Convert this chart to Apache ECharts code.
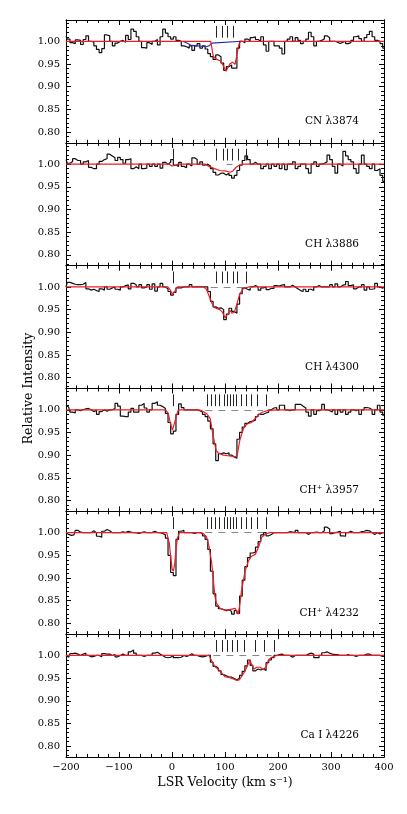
<!DOCTYPE html>
<html>
<head>
<meta charset="utf-8">
<title>Absorption profiles</title>
<script src="https://cdn.jsdelivr.net/npm/echarts@6/dist/echarts.min.js"></script>
<style>
  html, body { margin: 0; padding: 0; background: #fff; }
  #main { width: 407px; height: 814px; }
</style>
</head>
<body>
<div id="main"></div>
<script>
// velocity grid of the spectra (km/s), one bin per 5 km/s
var vel = [];
for (var i = 0; i < 121; i++) vel.push(-200 + 5 * i);

var xTicks = [-200, -100, 0, 100, 200, 300, 400];
var yLabels = [0.80, 0.85, 0.90, 0.95, 1.00];
var yMinor = [0.78, 0.79, 0.81, 0.82, 0.83, 0.84, 0.86, 0.87, 0.88, 0.89, 0.91, 0.92, 0.93, 0.94,
  0.96, 0.97, 0.98, 0.99, 1.01, 1.02, 1.03, 1.04];

// observed spectra (relative intensity)
var cn3874 = [1.012,1.005,0.997,0.995,1.003,1.002,0.993,1.004,1.012,1.000,
  0.998,0.990,0.982,0.975,0.984,1.014,1.012,1.000,0.990,0.996,
  1.000,1.002,0.998,1.013,1.004,1.027,1.022,1.010,1.000,0.986,
  0.985,0.997,0.993,1.000,1.004,0.992,1.010,1.027,1.018,1.010,
  1.005,1.010,1.002,1.000,0.990,0.988,0.985,0.990,0.980,0.990,
  0.995,0.985,0.990,0.983,0.973,0.966,0.960,0.970,0.966,0.952,
  0.936,0.944,0.948,0.941,0.941,0.985,1.000,0.997,1.005,1.001,
  1.008,1.010,1.004,1.000,1.010,0.992,0.978,1.000,1.000,0.990,
  0.990,0.985,0.972,1.000,1.005,1.010,1.000,1.008,1.002,0.995,
  1.000,1.005,1.020,1.010,0.990,1.000,1.002,1.005,1.012,1.008,
  1.000,1.000,0.998,0.995,0.998,1.000,0.995,0.997,1.002,1.010,
  1.012,1.006,1.000,1.008,1.015,1.022,1.010,1.002,1.000,0.995,
  0.985];
var ch3886 = [1.010,1.002,1.006,1.012,1.008,1.008,1.000,1.005,1.008,0.993,
  0.990,0.990,1.000,1.006,1.010,1.012,1.022,1.018,1.014,1.008,
  1.015,1.010,1.002,1.010,1.012,0.990,0.994,0.990,1.000,0.990,
  0.991,1.000,0.995,1.000,0.995,1.000,0.991,1.004,1.000,1.004,
  1.010,0.998,0.995,1.004,0.995,0.992,1.000,0.996,1.014,1.010,
  1.000,1.005,0.998,1.000,0.996,0.990,0.982,0.976,0.980,0.980,
  0.976,0.980,0.975,0.969,0.975,0.986,0.998,1.008,1.018,1.010,
  1.000,1.004,1.000,1.000,0.990,0.995,1.000,0.990,1.000,0.995,
  1.000,0.990,1.000,0.988,1.000,1.000,1.005,0.990,0.995,1.000,
  1.000,0.990,0.980,1.000,1.005,0.995,1.000,1.002,1.005,1.020,
  1.010,0.995,0.980,1.000,0.996,1.028,1.018,1.010,1.005,0.990,
  0.980,1.000,1.020,1.000,0.995,0.990,1.000,0.986,0.990,0.975,
  0.962];
var ch4300 = [1.000,1.010,1.008,1.006,1.005,1.005,1.006,1.010,0.996,0.993,
  0.995,0.992,0.990,0.996,0.993,1.000,0.995,0.998,1.000,0.995,
  0.993,1.000,1.003,1.005,0.996,1.008,1.005,1.000,1.005,0.998,
  1.000,1.005,0.995,1.007,0.991,1.000,1.008,1.000,0.996,0.990,
  0.982,0.988,0.998,0.998,1.000,1.000,1.000,1.005,1.000,1.000,
  1.000,1.000,1.000,1.000,0.990,0.968,0.956,0.953,0.954,0.950,
  0.928,0.940,0.953,0.946,0.942,0.962,0.985,0.998,0.995,0.993,
  1.000,1.003,1.000,0.993,0.998,1.000,0.994,0.997,0.997,1.003,
  1.002,1.004,1.005,1.000,1.000,1.004,1.000,0.996,0.992,0.990,
  0.995,0.990,0.995,0.992,1.000,1.003,1.000,1.000,1.000,1.000,
  1.005,1.000,1.007,1.000,1.004,1.005,1.012,1.003,1.005,0.996,
  1.000,1.000,1.005,0.993,1.000,0.995,0.996,1.008,1.000,0.997,
  1.000];
var chp3957 = [1.010,1.006,0.995,0.993,1.000,0.998,1.000,1.002,1.003,1.000,
  0.996,0.999,0.990,0.996,1.000,0.997,1.000,1.000,1.003,1.014,
  1.008,0.986,0.985,0.985,0.995,1.003,0.995,0.995,1.010,1.014,
  1.004,0.995,1.000,1.014,1.018,1.010,1.007,1.003,0.992,0.972,
  0.947,0.953,0.990,1.013,1.005,1.000,1.000,1.000,1.000,1.000,
  0.998,0.995,0.990,0.985,0.975,0.958,0.925,0.888,0.903,0.905,
  0.903,0.905,0.900,0.896,0.893,0.935,0.950,0.962,0.970,0.974,
  0.975,0.977,0.985,0.990,0.990,0.993,0.995,1.000,1.004,1.005,
  1.000,1.010,1.010,1.000,0.998,1.000,1.000,1.012,1.012,1.008,
  1.004,0.995,0.986,1.000,0.990,0.998,1.000,1.012,1.000,0.998,
  0.995,1.000,0.990,1.000,0.995,1.000,0.990,0.995,1.000,0.998,
  1.000,0.990,1.000,1.005,1.004,1.000,0.990,1.000,1.010,0.995,
  0.988];
var chp4232 = [1.000,0.996,0.994,0.995,1.005,1.001,1.000,1.000,1.000,1.000,
  1.004,1.000,0.992,0.990,1.003,1.007,1.004,1.000,1.000,1.000,
  1.000,1.002,1.000,1.003,1.001,1.000,1.000,0.998,1.000,1.002,
  1.000,1.000,1.000,1.003,1.000,1.000,0.998,0.995,0.988,0.950,
  0.912,0.905,0.985,1.003,1.005,1.000,1.000,1.000,0.998,1.000,
  1.000,0.998,0.993,0.985,0.963,0.915,0.865,0.838,0.832,0.830,
  0.828,0.830,0.826,0.820,0.828,0.822,0.860,0.895,0.925,0.945,
  0.955,0.957,0.968,0.980,0.995,1.000,0.993,0.996,1.000,1.000,
  1.000,1.000,1.000,1.000,1.002,1.001,1.000,1.005,1.000,1.000,
  1.000,0.996,1.000,1.000,1.001,1.000,1.000,1.004,1.012,1.008,
  0.998,1.000,1.001,1.003,0.993,0.992,1.000,1.003,1.000,1.000,
  1.000,1.002,1.003,1.005,1.004,1.000,0.996,1.000,0.997,1.000,
  1.000];
var cai4226 = [1.000,0.996,1.004,1.005,1.003,1.000,1.003,1.005,1.000,0.997,
  0.998,1.000,1.000,0.997,1.004,1.003,1.003,1.000,1.002,0.997,
  1.000,1.003,1.000,1.000,1.008,1.012,1.005,1.000,1.000,0.998,
  1.000,1.000,1.000,1.005,1.007,1.003,1.000,0.996,0.995,0.996,
  1.000,0.995,0.995,0.996,1.000,0.998,1.000,1.004,1.000,1.000,
  0.998,0.997,0.998,1.000,1.000,0.985,0.976,0.972,0.966,0.958,
  0.955,0.953,0.952,0.949,0.946,0.950,0.956,0.965,0.977,0.990,
  0.978,0.966,0.970,0.968,0.970,0.967,0.984,0.990,0.995,1.000,
  1.002,1.003,1.000,1.000,1.000,0.996,1.000,1.000,1.000,1.000,
  1.000,1.003,1.005,1.003,0.995,0.995,1.000,1.006,1.008,1.005,
  1.003,1.002,1.002,1.000,1.000,1.000,1.002,1.000,1.000,0.998,
  1.000,1.000,1.000,1.003,1.003,1.000,1.000,1.000,1.000,0.998,
  0.998];

// profile fits [velocity, intensity]
var fitCN3874 = [[-200,1],[73,1],[78,0.967],[84,0.96],[91,0.957],[96,0.948],[102,0.934],[109,0.95],
  [114,0.954],[119,0.949],[123,0.974],[127,0.996],[131,1],[400,1]];
var blueCN3874 = [[20,1],[28,0.996],[37,0.991],[47,0.99],[56,0.989],[65,0.988],[70,0.99],[75,0.996],[78,1],[131,1]];
var fitCH3886 = [[-200,1],[-5,1],[0,0.996],[6,0.997],[12,1],[62,1],[70,0.995],[80,0.99],[90,0.986],
  [100,0.985],[110,0.982],[115,0.985],[120,0.992],[126,0.997],[135,1],[400,1]];
var fitCH4300 = [[-200,1],[-8,1],[-3,0.993],[1,0.983],[5,0.99],[10,1],[60,1],[65,0.995],[70,0.98],
  [75,0.965],[80,0.955],[85,0.952],[90,0.95],[95,0.945],[100,0.932],[105,0.94],[110,0.948],[113,0.942],
  [118,0.945],[123,0.965],[128,0.985],[135,0.997],[145,1],[400,1]];
var fitCHp3957 = [[-200,1],[-12,1],[-7,0.992],[-3,0.97],[1,0.955],[4,0.958],[8,0.985],[12,1],[50,1],
  [56,0.998],[65,0.992],[72,0.981],[78,0.94],[83,0.911],[87,0.905],[97,0.9],[109,0.898],[119,0.896],
  [123,0.9],[128,0.933],[135,0.959],[141,0.968],[150,0.972],[160,0.985],[169,0.994],[179,0.998],[198,1],[400,1]];
var fitCHp4232 = [[-200,1],[-10,1],[-5,0.976],[-2.5,0.947],[0,0.921],[2.5,0.915],[5,0.93],[7.5,0.962],
  [10,0.987],[14,1],[55,1],[59,0.998],[65,0.991],[70,0.969],[75,0.932],[78,0.896],[81,0.859],[84,0.844],
  [91,0.833],[100,0.829],[109,0.83],[119,0.833],[125,0.82],[128,0.842],[131,0.871],[138,0.915],[144,0.937],
  [150,0.948],[157,0.952],[163,0.967],[169,0.989],[176,0.997],[185,1],[400,1]];
var fitCaI4226 = [[-200,1],[70,1],[75,0.988],[81,0.975],[87,0.97],[94,0.961],[100,0.953],[109,0.951],
  [116,0.948],[122,0.945],[127,0.946],[131,0.953],[138,0.966],[144,0.982],[147,0.99],[150,0.981],
  [155,0.97],[160,0.974],[166,0.974],[172,0.969],[177,0.974],[182,0.99],[188,0.996],[198,1],[400,1]];

// velocity components (tick marks) and dashed continuum ranges
var compCN3874 = [84, 94, 105, 116];
var compCH3886 = [2, 83, 96, 105, 114, 125, 140];
var compCH4300 = [2, 84, 94, 105, 115, 124, 140];
var compCHp = [2, 66, 74, 82, 90, 99, 105, 110, 115, 122, 130, 140, 149, 160, 178];
var compCaI4226 = [84, 95, 104, 113, 123, 137, 158, 174, 193];
var dashCH3886 = [103, 114];
var dashCH4300 = [73, 150];
var dashCHp = [63, 172];
var dashCaI4226 = [78, 188];

var panels = [
  { label: 'CN λ3874', flux: cn3874, fit: fitCN3874, comps: compCN3874, dash: null, blue: blueCN3874 },
  { label: 'CH λ3886', flux: ch3886, fit: fitCH3886, comps: compCH3886, dash: dashCH3886 },
  { label: 'CH λ4300', flux: ch4300, fit: fitCH4300, comps: compCH4300, dash: dashCH4300 },
  { label: 'CH⁺ λ3957', flux: chp3957, fit: fitCHp3957, comps: compCHp, dash: dashCHp },
  { label: 'CH⁺ λ4232', flux: chp4232, fit: fitCHp4232, comps: compCHp, dash: dashCHp },
  { label: 'Ca I λ4226', flux: cai4226, fit: fitCaI4226, comps: compCaI4226, dash: dashCaI4226 }
];

var yMin = 0.776, yMax = 1.047;
var top0 = 20, H = 122.83, left = 66, W = 318;
var font = '"DejaVu Serif", "Liberation Serif", serif';

var grids = [], xAxes = [], yAxes = [], series = [], graphics = [];

function xAxis(k, pos) {
  return {
    type: 'value', gridIndex: k, position: pos, min: -200, max: 400, interval: 100,
    axisLine: { show: true, onZero: false, lineStyle: { color: '#000', width: 1 } },
    axisTick: { show: true, inside: true, length: 5, lineStyle: { color: '#000' } },
    minorTick: { show: true, splitNumber: 5, length: 3, lineStyle: { color: '#000' } },
    splitLine: { show: false },
    axisLabel: {
      show: k === 5 && pos === 'bottom', margin: 5, color: '#000', fontSize: 10, fontFamily: font,
      formatter: function (v) { return v < 0 ? '−' + (-v) : String(v); }
    }
  };
}

function yAxis(k, pos, ticks, len, showLabel) {
  return {
    type: 'value', gridIndex: k, position: pos, min: yMin, max: yMax,
    axisLine: { show: true, onZero: false, lineStyle: { color: '#000', width: 1 } },
    axisTick: { show: true, inside: true, length: len, customValues: ticks, lineStyle: { color: '#000' } },
    splitLine: { show: false },
    axisLabel: {
      show: showLabel, customValues: yLabels, margin: 6, color: '#000', fontSize: 10, fontFamily: font,
      formatter: function (v) { return v.toFixed(2); }
    }
  };
}

panels.forEach(function (p, k) {
  var top = top0 + k * H;
  grids.push({ left: left, width: W, top: top, height: H, containLabel: false, outerBoundsMode: 'none' });
  xAxes.push(xAxis(k, 'bottom'), xAxis(k, 'top'));
  yAxes.push(yAxis(k, 'left', yLabels, 5, true), yAxis(k, 'left', yMinor, 3, false),
    yAxis(k, 'right', yLabels, 5, false), yAxis(k, 'right', yMinor, 3, false));

  var xi = 2 * k, yi = 4 * k;

  // component ticks and dashed continuum
  var marks = p.comps.map(function (v) {
    return [{ coord: [v, 1.008] }, { coord: [v, 1.034] }];
  });
  if (p.dash) {
    marks.push([{ coord: [p.dash[0], 1], lineStyle: { color: '#888', type: [7, 6], width: 1.2 } },
      { coord: [p.dash[1], 1] }]);
  }
  series.push({
    type: 'line', xAxisIndex: xi, yAxisIndex: yi, data: [], silent: true,
    markLine: {
      silent: true, symbol: ['none', 'none'], label: { show: false }, animation: false,
      lineStyle: { color: '#222', type: 'solid', width: 1 }, data: marks
    }
  });

  series.push({
    type: 'line', xAxisIndex: xi, yAxisIndex: yi, step: 'middle', showSymbol: false, silent: true,
    data: p.flux.map(function (y, i) { return [vel[i], y]; }),
    lineStyle: { color: '#111', width: 1.2 }
  });

  if (p.blue) {
    series.push({
      type: 'line', xAxisIndex: xi, yAxisIndex: yi, showSymbol: false, silent: true,
      data: p.blue, lineStyle: { color: '#2a2aa8', width: 1.1 }
    });
  }

  series.push({
    type: 'line', xAxisIndex: xi, yAxisIndex: yi, showSymbol: false, silent: true,
    data: p.fit, lineStyle: { color: '#ee1c24', width: 1.2 }
  });

  graphics.push({
    type: 'text', right: 48, top: top + 96,
    style: { text: p.label, font: '10.5px ' + font, fill: '#000' }
  });
});

graphics.push({
  type: 'text', x: 29, y: 388.5, rotation: Math.PI / 2,
  style: { text: 'Relative Intensity', font: '12.5px ' + font, fill: '#000', textAlign: 'center', textVerticalAlign: 'middle' }
});
graphics.push({
  type: 'text', x: 225, y: 783,
  style: { text: 'LSR Velocity (km s⁻¹)', font: '12.5px ' + font, fill: '#000', textAlign: 'center', textVerticalAlign: 'middle' }
});

var chart = echarts.init(document.getElementById('main'));
chart.setOption({
  animation: false,
  backgroundColor: '#fff',
  grid: grids,
  xAxis: xAxes,
  yAxis: yAxes,
  series: series,
  graphic: graphics
});
</script>
</body>
</html>
